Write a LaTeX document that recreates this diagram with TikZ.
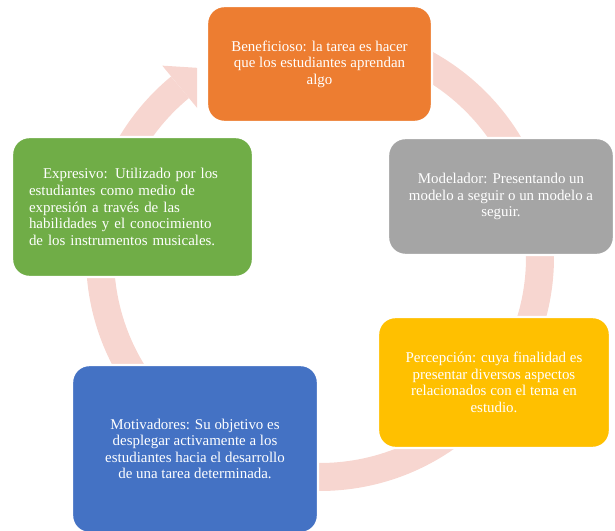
\documentclass[tikz,border=0pt]{standalone}
\usepackage{fontspec}
\setmainfont{Liberation Serif}
\usepackage{tikz}
\usetikzlibrary{shapes,arrows,calc}
\definecolor{accorange}{HTML}{ED7D31}
\definecolor{accgray}{HTML}{A5A5A5}
\definecolor{accgold}{HTML}{FFC000}
\definecolor{accblue}{HTML}{4472C4}
\definecolor{accgreen}{HTML}{70AD47}
\definecolor{ringpink}{RGB}{247,214,208}
\tikzstyle{block} = [rectangle, draw=white, line width=1.8pt, text=white, 
align=center, rounded corners=13pt, inner sep=0pt, font=\fontsize{11.2}{12.4}\selectfont]
\tikzstyle{orangeblock} = [block, fill=accorange, minimum width=168.75pt, minimum height=87pt]
\tikzstyle{grayblock} = [block, fill=accgray, minimum width=169.5pt, minimum height=87.75pt]
\tikzstyle{goldblock} = [block, fill=accgold, minimum width=174pt, minimum height=98.25pt]
\tikzstyle{blueblock} = [block, fill=accblue, minimum width=184.5pt, minimum height=126pt]
\tikzstyle{greenblock} = [block, fill=accgreen, text width=155.25pt, inner xsep=12.75pt, 
minimum height=105pt, align=left]
\tikzstyle{ring} = [draw=ringpink, line width=21pt]

\begin{document}
\begin{tikzpicture}[x=0.75pt, y=0.75pt]
	\useasboundingbox (0,0) rectangle (615,531);
	\coordinate (hub) at (320,274);
	\draw [ring] (hub) ++(95:220) arc[start angle=95, end angle=-230.5, radius=220];
	\begin{scope}
		\clip (0,0) rectangle (197,531);
		\fill [ringpink] ($(hub)+(129.5:248)$) -- ($(hub)+(121:220)$) -- ($(hub)+(129.5:192)$) -- cycle;
	\end{scope}
	
	\node [orangeblock] (bene) at (319.5,467) {Beneficioso: la tarea es hacer\\que los estudiantes aprendan\\algo};
	\node [grayblock] (model) at (501,334.5) {Modelador: Presentando un\\modelo a seguir o un modelo a\\seguir.};
	\node [goldblock] (percep) at (494,148.5) {Percepción: cuya finalidad es\\presentar diversos aspectos\\relacionados con el tema en\\estudio.};
	\node [blueblock] (motiv) at (195,82) {Motivadores: Su objetivo es\\desplegar activamente a los\\estudiantes hacia el desarrollo\\de una tarea determinada.};
	\node [greenblock] (expres) at (132.5,324) {\hspace*{10.5pt}Expresivo: Utilizado por los\\estudiantes como medio de\\expresión a través de las\\habilidades y el conocimiento\\de los instrumentos musicales.};
	
\end{tikzpicture}
\end{document}
